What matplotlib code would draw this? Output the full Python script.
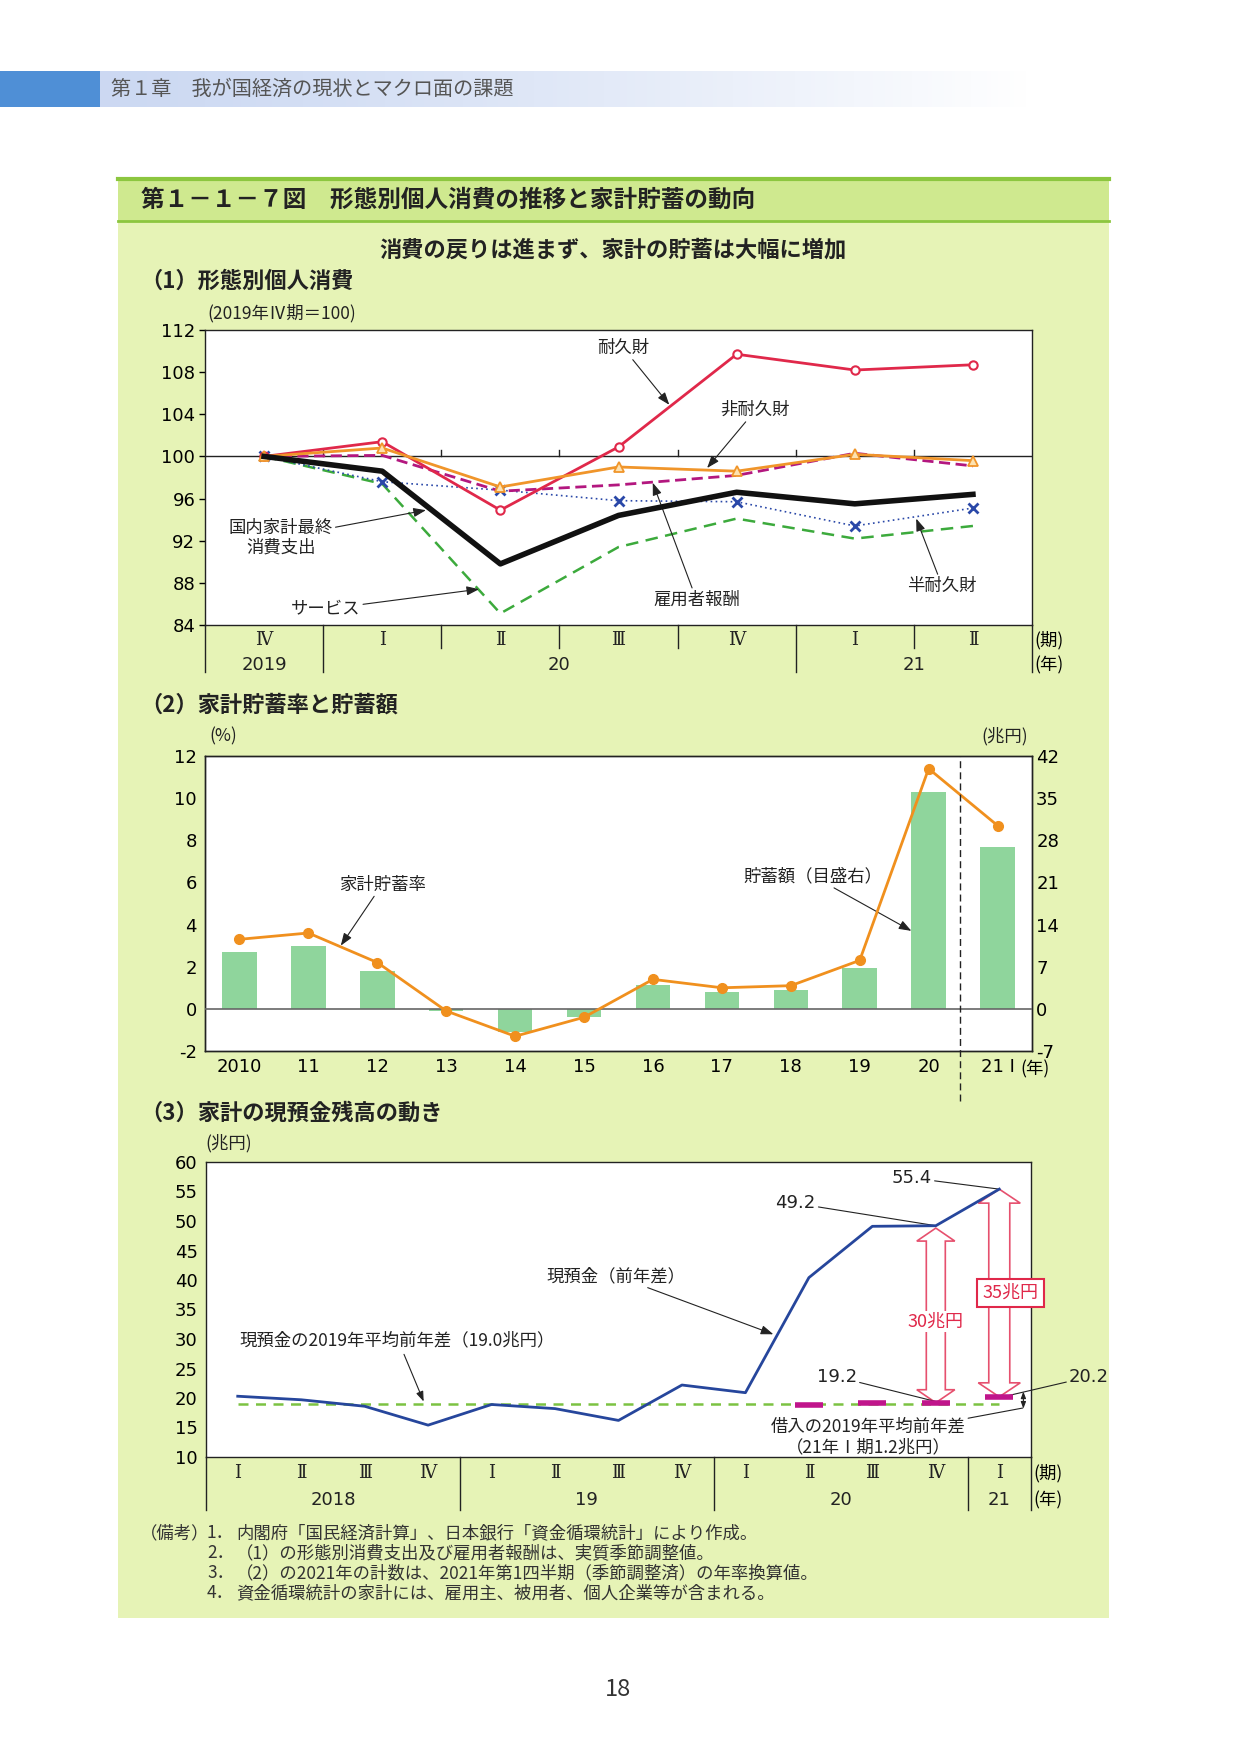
import numpy as np
import matplotlib
matplotlib.use("Agg")
import matplotlib.pyplot as plt
from matplotlib.patches import Rectangle, Polygon

plt.rcParams['font.family'] = ['Noto Sans CJK JP', 'DejaVu Sans']
plt.rcParams['axes.unicode_minus'] = False

# ---- data: (1) consumption by type (2019 Q4 = 100)
quarters1 = ['Ⅳ', 'Ⅰ', 'Ⅱ', 'Ⅲ', 'Ⅳ', 'Ⅰ', 'Ⅱ']
years1 = ['2019', '20', '21']
year_starts1 = [0, 1, 5]
total = [100, 98.6, 89.8, 94.4, 96.6, 95.5, 96.4]
durable = [100, 101.4, 94.9, 100.9, 109.7, 108.2, 108.7]
nondurable = [100, 100.8, 97.1, 99.0, 98.6, 100.2, 99.6]
compensation = [100, 100.1, 96.7, 97.3, 98.2, 100.3, 99.1]
semidurable = [100, 97.6, 96.8, 95.8, 95.7, 93.4, 95.1]
services = [100, 97.4, 85.1, 91.4, 94.1, 92.2, 93.4]

# ---- data: (2) saving rate (%) and saving amount (trillion yen)
years2 = ['2010', '11', '12', '13', '14', '15', '16', '17', '18', '19', '20', '21 Ⅰ']
saving_rate = [3.3, 3.6, 2.2, -0.1, -1.3, -0.4, 1.4, 1.0, 1.1, 2.3, 11.4, 8.7]
saving_amount = [9.4, 10.5, 6.3, -0.3, -3.8, -1.3, 4.0, 2.8, 3.2, 6.8, 36.1, 26.9]

# ---- data: (3) cash & deposits, year-on-year change (trillion yen)
quarters3 = ['Ⅰ', 'Ⅱ', 'Ⅲ', 'Ⅳ', 'Ⅰ', 'Ⅱ', 'Ⅲ', 'Ⅳ', 'Ⅰ', 'Ⅱ', 'Ⅲ', 'Ⅳ', 'Ⅰ']
years3 = ['2018', '19', '20', '21']
year_starts3 = [0, 4, 8, 12]
cash = [20.3, 19.7, 18.6, 15.4, 18.9, 18.2, 16.2, 22.2, 20.9, 40.4, 49.1, 49.2, 55.4]
borrow_pos = [9, 10, 11, 12]
borrow = [18.8, 19.1, 19.2, 20.2]
cash_avg_2019 = 19.0

W, H = 1241, 1755
fig = plt.figure(figsize=(W / 100, H / 100), dpi=100)
fig.patch.set_facecolor('white')

NUM_FONT = 'DejaVu Sans'
ROMAN_FONT = ['DejaVu Serif', 'Noto Sans CJK JP']
TXT = '#222222'


def fx(x):
    return x / W


def fy(y):
    return 1 - y / H


def axrect(x0, y0, x1, y1):
    return [fx(x0), fy(y1), fx(x1) - fx(x0), fy(y0) - fy(y1)]


def fig_rect(x0, y0, x1, y1, color):
    fig.patches.append(Rectangle((fx(x0), fy(y1)), fx(x1) - fx(x0), fy(y0) - fy(y1),
                                 transform=fig.transFigure, fc=color, ec='none', zorder=-5))


def fig_hline(x0, x1, y, color, lw):
    fig.lines.append(plt.Line2D([fx(x0), fx(x1)], [fy(y), fy(y)], transform=fig.transFigure,
                                color=color, lw=lw, zorder=-4))


# page header band
fig_rect(0, 71, 100, 107, '#4f8fd6')
gax = fig.add_axes(axrect(100, 71, 1100, 107))
grad = np.linspace(0, 1, 256)
cols = np.zeros((1, 256, 3))
start = np.array([0.80, 0.85, 0.95])
for i, g in enumerate(grad):
    cols[0, i] = start + (1 - start) * min(1, g ** 1.3 * 1.1)
gax.imshow(cols, aspect='auto', extent=[0, 1, 0, 1])
gax.axis('off')
fig.text(fx(111), fy(89), '第１章　我が国経済の現状とマクロ面の課題', fontsize=14.5,
         color='#555555', va='center', ha='left')

# green figure box
fig_rect(118, 221, 1109, 1618, '#e6f3b6')
fig_rect(118, 177, 1109, 221, '#cfe98f')
fig_hline(118, 1109, 178.5, '#8cc63f', 3)
fig_hline(118, 1109, 221, '#8cc63f', 2)
fig.text(fx(141), fy(200), '第１－１－７図　形態別個人消費の推移と家計貯蓄の動向',
         fontsize=17, fontweight='bold', va='center', ha='left', color=TXT)
fig.text(fx(613), fy(250), '消費の戻りは進まず、家計の貯蓄は大幅に増加',
         fontsize=16, fontweight='bold', va='center', ha='center', color=TXT)
fig.text(fx(140), fy(281), '（1）形態別個人消費', fontsize=16, fontweight='bold',
         va='center', ha='left', color=TXT)
fig.text(fx(140), fy(705), '（2）家計貯蓄率と貯蓄額', fontsize=16, fontweight='bold',
         va='center', ha='left', color=TXT)
fig.text(fx(140), fy(1113), '（3）家計の現預金残高の動き', fontsize=16, fontweight='bold',
         va='center', ha='left', color=TXT)

ann_kw = dict(fontsize=12.5, ha='center', va='center', color=TXT)
arrow_kw = dict(arrowstyle='-|>,head_length=0.6,head_width=0.22', color=TXT, lw=0.8,
                shrinkA=0, shrinkB=0)
line_kw = dict(arrowstyle='-', color=TXT, lw=0.8, shrinkA=0, shrinkB=0)


def style_axes(ax):
    for s in ax.spines.values():
        s.set_linewidth(1.0)
        s.set_color(TXT)
    for lab in ax.get_yticklabels():
        lab.set_fontfamily(NUM_FONT)
        lab.set_fontsize(13)


def category_row(ax, labels, starts, qy, boundary_bottom, short_bottom, short=True):
    n = len(labels)
    tr = ax.get_xaxis_transform()
    for i, q in enumerate(labels):
        ax.text(i, qy, q, transform=tr, ha='center', va='center', fontsize=13,
                family=ROMAN_FONT, color=TXT)
    for b in range(n - 1):
        xb = b + 0.5
        if (b + 1) in starts:
            ax.plot([xb, xb], [0, boundary_bottom], transform=tr, color=TXT, lw=1, clip_on=False)
        elif short:
            ax.plot([xb, xb], [0, short_bottom], transform=tr, color=TXT, lw=1, clip_on=False)
    for xb in (-0.5, n - 0.5):
        ax.plot([xb, xb], [0, boundary_bottom], transform=tr, color=TXT, lw=1, clip_on=False)


def year_row(ax, names, starts, n, yy):
    tr = ax.get_xaxis_transform()
    for k, (name, s) in enumerate(zip(names, starts)):
        e = starts[k + 1] - 1 if k + 1 < len(starts) else n - 1
        ax.text((s + e) / 2, yy, name, transform=tr, ha='center', va='center', fontsize=13,
                family=NUM_FONT, color=TXT)


# ============ panel 1 ============
ax1 = fig.add_axes(axrect(205, 330, 1032, 625))
ax1.set_facecolor('white')
x1 = np.arange(len(quarters1))
ax1.axhline(100, color=TXT, lw=1, zorder=1)
for b in range(len(quarters1) - 1):
    ax1.plot([b + 0.5, b + 0.5], [100, 100.6], color=TXT, lw=1, zorder=1)
ax1.plot(x1, services, color='#3caa3c', lw=1.8, ls=(0, (5, 3)), zorder=3)
ax1.plot(x1, semidurable, color='#2a48a8', lw=1.2, ls=(0, (1, 2)), marker='x', ms=7, mew=2, zorder=3)
ax1.plot(x1, compensation, color='#b3177f', lw=2, ls=(0, (4, 2)), zorder=4)
ax1.plot(x1, durable, color='#e0284a', lw=2, marker='o', ms=6, mfc='white', mew=1.5, zorder=5)
ax1.plot(x1, nondurable, color='#f0952a', lw=2, marker='^', ms=7, mfc='#fde2b0', mew=1.3, zorder=5)
ax1.plot(x1, total, color='#111111', lw=4, zorder=6)
ax1.set_xlim(-0.5, len(quarters1) - 0.5)
ax1.set_ylim(84, 112)
ax1.set_yticks(np.arange(84, 113, 4))
ax1.set_xticks([])
ax1.tick_params(axis='y', length=4, width=1, pad=3)
style_axes(ax1)
category_row(ax1, quarters1, year_starts1, -0.051, -0.16, -0.078)
year_row(ax1, years1, year_starts1, len(quarters1), -0.136)
ax1.text(1.003, -0.051, '(期)', transform=ax1.transAxes, ha='left', va='center', fontsize=12.5)
ax1.text(1.003, -0.136, '(年)', transform=ax1.transAxes, ha='left', va='center', fontsize=12.5)
fig.text(fx(207), fy(313), '(2019年Ⅳ期＝100)', fontsize=12.5, va='center', ha='left', color=TXT)

ax1.annotate('耐久財', xy=(3.43, 104.9), xytext=(3.04, 110.3), arrowprops=arrow_kw, **ann_kw)
ax1.annotate('非耐久財', xy=(3.75, 98.9), xytext=(4.16, 104.4), arrowprops=arrow_kw, **ann_kw)
ax1.annotate('雇用者報酬', xy=(3.29, 97.5), xytext=(3.66, 86.4), arrowprops=arrow_kw, **ann_kw)
ax1.annotate('半耐久財', xy=(5.52, 94.1), xytext=(5.74, 87.7), arrowprops=arrow_kw, **ann_kw)
ax1.annotate('国内家計最終\n消費支出', xy=(1.37, 94.9), xytext=(0.14, 92.3), arrowprops=arrow_kw,
             linespacing=1.1, **ann_kw)
ax1.annotate('サービス', xy=(1.82, 87.4), xytext=(0.52, 85.5), arrowprops=arrow_kw, **ann_kw)

# ============ panel 2 ============
ax2r = fig.add_axes(axrect(205, 756, 1032, 1051))
ax2 = ax2r.twinx()
ax2r.yaxis.tick_right()
ax2.yaxis.tick_left()
x2 = np.arange(len(years2))
ax2r.set_facecolor('white')
ax2r.bar(x2, saving_amount, width=0.5, color='#8fd59c', zorder=2)
ax2r.set_ylim(-7, 42)
ax2r.set_yticks(np.arange(-7, 43, 7))
ax2.axhline(0, color='#666666', lw=1.2, zorder=3)
ax2.plot(x2, saving_rate, color='#f0901e', lw=2, marker='o', ms=7, zorder=5)
ax2.set_ylim(-2, 12)
ax2.set_yticks(np.arange(-2, 13, 2))
ax2r.set_xlim(-0.5, len(years2) - 0.5)
ax2r.set_xticks(x2)
ax2r.set_xticklabels(years2)
for lab in ax2r.get_xticklabels():
    lab.set_fontsize(13)
    lab.set_fontfamily([NUM_FONT, 'Noto Sans CJK JP'])
ax2r.tick_params(axis='x', length=0, pad=5)
ax2.tick_params(axis='y', length=0, pad=6)
ax2r.tick_params(axis='y', length=0, pad=3)
style_axes(ax2)
style_axes(ax2r)
ax2.axvline(10.45, ymin=-0.17, ymax=1, color=TXT, lw=1, ls=(0, (5, 3)), clip_on=False, zorder=6)
ax2.text(11.33, -0.062, '(年)', transform=ax2.get_xaxis_transform(), ha='left', va='center',
         fontsize=12.5)
fig.text(fx(223), fy(736), '(%)', fontsize=12.5, va='center', ha='center', color=TXT)
fig.text(fx(1005), fy(736), '(兆円)', fontsize=12.5, va='center', ha='center', color=TXT)
ax2.annotate('家計貯蓄率', xy=(1.47, 3.0), xytext=(2.07, 5.9), arrowprops=arrow_kw, **ann_kw)
ax2.annotate('貯蓄額（目盛右）', xy=(9.75, 3.7), xytext=(8.32, 6.3), arrowprops=arrow_kw, **ann_kw)

# ============ panel 3 ============
ax3 = fig.add_axes(axrect(206, 1162, 1031, 1457))
ax3.set_facecolor('white')
x3 = np.arange(len(quarters3))
ax3.set_xlim(-0.5, len(quarters3) - 0.5)
ax3.set_ylim(10, 60)
ax3.set_yticks(np.arange(10, 61, 5))
ax3.set_xticks([])
ax3.tick_params(axis='y', length=0, pad=6)
ax3.plot([0, len(quarters3) - 1], [cash_avg_2019] * 2, color='#7cc242', lw=1.8, ls=(0, (4, 3)), zorder=2)
ax3.hlines(borrow, np.array(borrow_pos) - 0.22, np.array(borrow_pos) + 0.22, color='#c0158b', lw=4, zorder=4)
ax3.plot(x3, cash, color='#26469c', lw=2, zorder=5)
style_axes(ax3)
category_row(ax3, quarters3, year_starts3, -0.054, -0.18, 0, short=False)
year_row(ax3, years3, year_starts3, len(quarters3), -0.146)
ax3.text(1.003, -0.054, '(期)', transform=ax3.transAxes, ha='left', va='center', fontsize=12.5)
ax3.text(1.003, -0.146, '(年)', transform=ax3.transAxes, ha='left', va='center', fontsize=12.5)
fig.text(fx(229), fy(1143), '(兆円)', fontsize=12.5, va='center', ha='center', color=TXT)


def hollow_arrow(ax, x, y0, y1, shaft=19, head=40, headlen=14, color='#e6506e'):
    xd, yd0 = ax.transData.transform((x, y0))
    _, yd1 = ax.transData.transform((x, y1))
    pts = [(xd, yd0), (xd + head / 2, yd0 + headlen), (xd + shaft / 2, yd0 + headlen),
           (xd + shaft / 2, yd1 - headlen), (xd + head / 2, yd1 - headlen), (xd, yd1),
           (xd - head / 2, yd1 - headlen), (xd - shaft / 2, yd1 - headlen),
           (xd - shaft / 2, yd0 + headlen), (xd - head / 2, yd0 + headlen)]
    pts = ax.transData.inverted().transform(pts)
    ax.add_patch(Polygon(pts, closed=True, fc='white', ec=color, lw=1.2, zorder=3))


hollow_arrow(ax3, borrow_pos[2], borrow[2], cash[11] - 0.4, shaft=19, head=38, headlen=13)
hollow_arrow(ax3, borrow_pos[3], borrow[3], cash[12], shaft=21, head=42, headlen=14)
red = '#e0284a'
ax3.text(10.99, 32.9, '30兆円', fontsize=13, color=red, ha='center', va='center', zorder=6,
         bbox=dict(fc='white', ec='none', pad=1))
ax3.text(12.18, 37.8, '35兆円', fontsize=13, color=red, ha='center', va='center', zorder=6,
         bbox=dict(fc='white', ec=red, lw=1.5, boxstyle='square,pad=0.3'))

ax3.annotate('現預金（前年差）', xy=(8.44, 30.8), xytext=(5.96, 40.7), arrowprops=arrow_kw, **ann_kw)
ax3.text(0.02, 29.8, '現預金の2019年平均前年差（19.0兆円）', fontsize=12.5, ha='left', va='center',
         color=TXT)
ax3.annotate('', xy=(2.93, 19.4), xytext=(2.62, 27.4), arrowprops=arrow_kw)
ax3.annotate('55.4', xy=(12, cash[12]), xytext=(10.62, 57.3), arrowprops=line_kw,
             fontsize=13, family=NUM_FONT, ha='center', va='center', color=TXT)
ax3.annotate('49.2', xy=(11, cash[11]), xytext=(8.79, 53.0), arrowprops=line_kw,
             fontsize=13, family=NUM_FONT, ha='center', va='center', color=TXT)
ax3.annotate('19.2', xy=(11, borrow[2] + 0.2), xytext=(9.44, 23.6), arrowprops=line_kw,
             fontsize=13, family=NUM_FONT, ha='center', va='center', color=TXT)
ax3.annotate('20.2', xy=(12.1, borrow[3] + 0.1), xytext=(13.1, 23.6), arrowprops=line_kw,
             fontsize=13, family=NUM_FONT, ha='left', va='center', color=TXT,
             annotation_clip=False)
ax3.annotate('借入の2019年平均前年差\n（21年Ⅰ期1.2兆円）', xy=(12.37, 18.3), xytext=(9.93, 13.4),
             arrowprops=line_kw, linespacing=1.15, **ann_kw)
ax3.annotate('', xy=(12.38, cash_avg_2019 - 0.8), xytext=(12.38, borrow[3] + 0.9),
             arrowprops=dict(arrowstyle='<|-|>,head_length=0.4,head_width=0.15', color=TXT,
                             lw=0.8, shrinkA=0, shrinkB=0), annotation_clip=False)

# notes
note_y = [1533, 1553, 1573, 1593]
notes = ['内閣府「国民経済計算」、日本銀行「資金循環統計」により作成。',
         '（1）の形態別消費支出及び雇用者報酬は、実質季節調整値。',
         '（2）の2021年の計数は、2021年第1四半期（季節調整済）の年率換算値。',
         '資金循環統計の家計には、雇用主、被用者、個人企業等が含まれる。']
fig.text(fx(140), fy(note_y[0]), '（備考）', fontsize=12.5, va='center', ha='left', color='#333333')
for i, (yy, t) in enumerate(zip(note_y, notes)):
    fig.text(fx(207), fy(yy), f'{i + 1}．', fontsize=12.5, va='center', ha='left', color='#333333')
    fig.text(fx(236), fy(yy), t, fontsize=12.5, va='center', ha='left', color='#333333')

fig.text(fx(618), fy(1689), '18', fontsize=17, va='center', ha='center', color='#333333')

fig.savefig('out.png', dpi=100)
